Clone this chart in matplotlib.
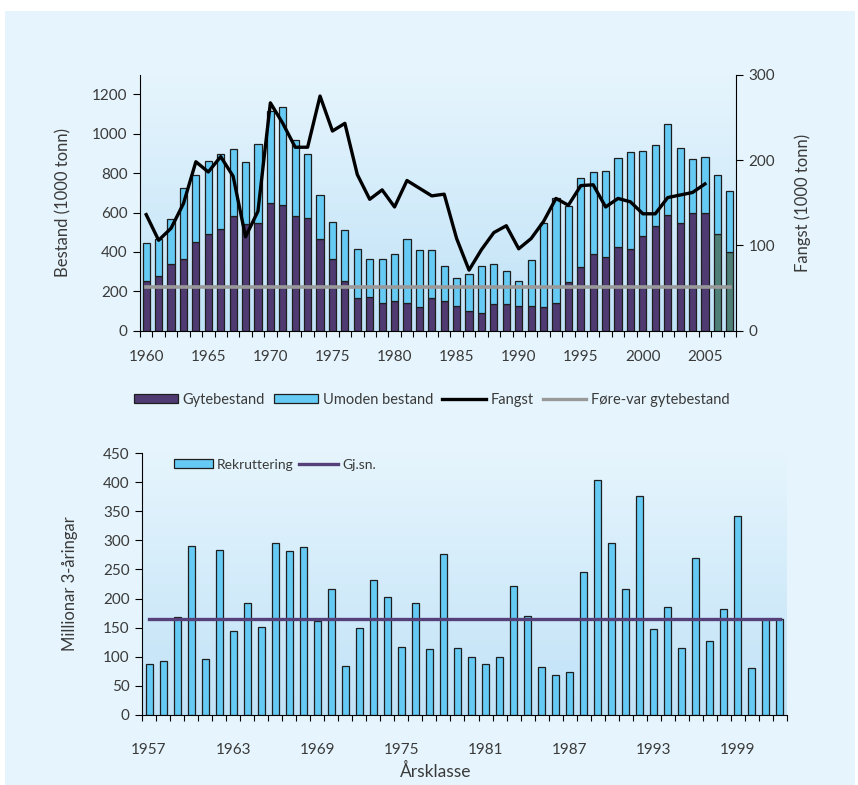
import numpy as np
import matplotlib
matplotlib.use("Agg")
import matplotlib.pyplot as plt
from matplotlib.patches import Patch, Rectangle
from matplotlib.lines import Line2D
from matplotlib.colors import LinearSegmentedColormap

plt.rcParams['font.family'] = ['Lato', 'DejaVu Sans']
plt.rcParams['font.size'] = 10
txt = '#3a3a3a'

# --- data, top chart (1000 tonn) ---
years = list(range(1960, 2008))
gytebestand = [254, 279, 337, 366, 452, 491, 516, 584, 540, 545,
               647, 640, 584, 574, 467, 365, 254, 164, 171, 142,
               149, 142, 120, 164, 149, 127, 100, 91, 135, 135,
               127, 127, 120, 142, 246, 323, 388, 374, 423, 416,
               481, 531, 589, 545, 596, 596, 489, 401]
umoden = [191, 186, 230, 360, 338, 372, 382, 337, 316, 404,
          468, 495, 386, 324, 223, 188, 257, 252, 194, 223,
          239, 325, 290, 246, 181, 139, 188, 239, 202, 166,
          125, 232, 427, 534, 389, 454, 418, 438, 454, 489,
          433, 410, 460, 382, 274, 287, 301, 310]
fangst_years = list(range(1960, 2006))
fangst = [136, 106, 120, 149, 198, 186, 204, 181, 110, 140,
          267, 243, 215, 215, 275, 234, 243, 183, 154, 165,
          145, 176, 167, 158, 160, 108, 71, 95, 115, 123,
          96, 108, 128, 155, 147, 170, 171, 145, 155, 151,
          137, 137, 156, 159, 162, 172]
foere_var = 220
prognose_years = [2006, 2007]

# --- data, bottom chart (millionar 3-åringar) ---
aarsklasse = list(range(1957, 2003))
rekruttering = [87, 93, 169, 291, 97, 284, 145, 192, 152, 296,
                282, 289, 162, 217, 85, 150, 232, 202, 117, 192,
                113, 277, 115, 100, 87, 100, 222, 170, 82, 68,
                73, 246, 403, 296, 217, 376, 147, 185, 115, 269,
                127, 182, 341, 80, 165, 165]
gj_sn = 165

c_gyte = '#4f3a72'
c_prog = '#4f8078'
c_umoden = '#66cbf4'
c_edge = '#1e1e1e'

fig = plt.figure(figsize=(8.58, 7.85), dpi=100, facecolor='white')
fig.patches.append(Rectangle((0.006, 0), 0.99, 0.986, transform=fig.transFigure,
                             facecolor='#e6f5fd', edgecolor='none', zorder=-10))

grad = LinearSegmentedColormap.from_list('g', ['#c0e2f7', '#e6f5fd'])


def background(ax):
    g = np.linspace(0, 1, 256).reshape(-1, 1)
    ax.imshow(g, cmap=grad, origin='lower', extent=[0, 1, 0, 1], aspect='auto',
              transform=ax.transAxes, zorder=0)
    ax.set_facecolor('none')


def cat_axis(ax, first, last, labels, pad):
    ax.set_xlim(first - 0.5, last + 0.5)
    ax.set_xticks(np.arange(first - 0.5, last + 1, 1.0))
    ax.set_xticklabels([])
    ax.set_xticks(labels, minor=True)
    ax.set_xticklabels([str(v) for v in labels], minor=True)
    ax.tick_params(axis='x', which='major', length=4, direction='out', color='black')
    ax.tick_params(axis='x', which='minor', length=0, pad=pad, labelsize=11, labelcolor=txt)


# ---------- top chart ----------
ax1 = fig.add_axes([140 / 858, 1 - 330.7 / 785, 596 / 858, 256 / 785])
background(ax1)
gcolors = [c_prog if y in prognose_years else c_gyte for y in years]
ax1.bar(years, gytebestand, width=0.58, color=gcolors, edgecolor=c_edge, linewidth=0.9, zorder=2)
ax1.bar(years, umoden, width=0.58, bottom=gytebestand, color=c_umoden,
        edgecolor=c_edge, linewidth=0.9, zorder=2)
ax1.plot([years[0], years[-1]], [foere_var, foere_var], color='#999999', lw=2.6, zorder=3)
ax1.set_ylim(0, 1300)
ax1.set_yticks(range(0, 1201, 200))
cat_axis(ax1, years[0], years[-1], list(range(1960, 2006, 5)), 14)
ax1.tick_params(axis='y', length=5, direction='out', labelsize=11, labelcolor=txt, pad=4)
for s in ['top', 'right']:
    ax1.spines[s].set_visible(False)
ax1.set_ylabel('Bestand (1000 tonn)', color=txt, fontsize=12)
ax1.yaxis.set_label_coords(-0.115, 0.5)

ax1b = ax1.twinx()
ax1b.plot(fangst_years, fangst, color='black', lw=2.4, zorder=4)
ax1b.set_ylim(0, 300)
ax1b.set_yticks([0, 100, 200, 300])
ax1b.tick_params(axis='y', length=5, direction='out', labelsize=11, labelcolor=txt, pad=4)
for s in ['top', 'left', 'bottom']:
    ax1b.spines[s].set_visible(False)
ax1b.set_ylabel('Fangst (1000 tonn)', color=txt, fontsize=12, rotation=90)
ax1b.yaxis.set_label_coords(1.098, 0.5)

handles = [Patch(facecolor=c_gyte, edgecolor=c_edge, linewidth=0.9),
           Patch(facecolor=c_umoden, edgecolor=c_edge, linewidth=0.9),
           Line2D([], [], color='black', lw=2.4),
           Line2D([], [], color='#999999', lw=2.4)]
fig.legend(handles, ['Gytebestand', 'Umoden bestand', 'Fangst', 'Føre-var gytebestand'],
           loc='center', bbox_to_anchor=(432 / 858, 1 - 400 / 785), ncol=4, frameon=False,
           handlelength=3.0, handleheight=0.55, columnspacing=0.6, handletextpad=0.35,
           labelcolor=txt, fontsize=10.5)

# ---------- bottom chart ----------
ax2 = fig.add_axes([142 / 858, 1 - 715 / 785, 645 / 858, 262 / 785])
background(ax2)
ax2.bar(aarsklasse, rekruttering, width=0.5, color=c_umoden, edgecolor=c_edge,
        linewidth=0.9, zorder=2)
ln, = ax2.plot([aarsklasse[0], aarsklasse[-1]], [gj_sn, gj_sn], color='#55407a', lw=2.4,
               zorder=3)
ax2.set_ylim(0, 450)
ax2.set_yticks(range(0, 451, 50))
cat_axis(ax2, aarsklasse[0], aarsklasse[-1], list(range(1957, 2003, 6)), 20)
ax2.tick_params(axis='y', length=5, direction='out', labelsize=11, labelcolor=txt, pad=4)
for s in ['top', 'right']:
    ax2.spines[s].set_visible(False)
ax2.set_ylabel('Millionar 3-åringar', color=txt, fontsize=12)
ax2.yaxis.set_label_coords(-0.1, 0.5)
ax2.set_xlabel('Årsklasse', color=txt, fontsize=12.5)
ax2.xaxis.set_label_coords(0.456, -0.185)
leg_patch = Patch(facecolor=c_umoden, edgecolor=c_edge, linewidth=0.9)
ax2.legend([leg_patch, ln], ['Rekruttering', 'Gj.sn.'],
           loc='center left', bbox_to_anchor=(0.03, 0.955), ncol=2, frameon=False,
           handlelength=2.8, handleheight=0.6, columnspacing=0.4, handletextpad=0.3,
           labelcolor=txt, fontsize=10)

fig.savefig('out.png', dpi=100, facecolor='white')
